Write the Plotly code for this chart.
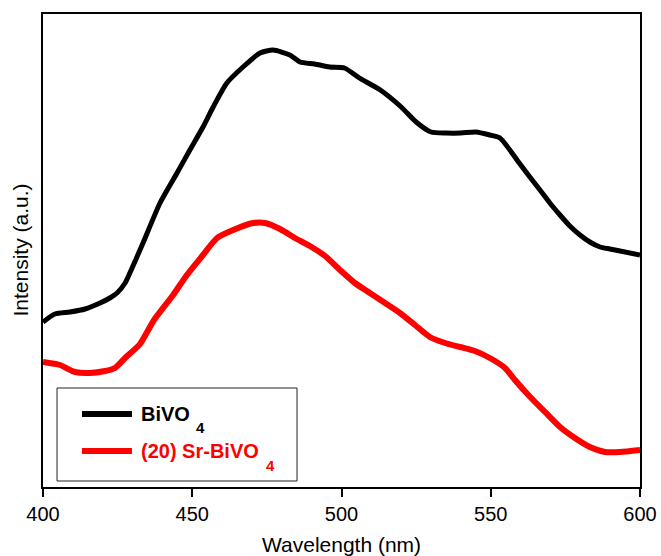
import plotly.graph_objects as go

# Photoluminescence spectra (arbitrary intensity units)
wl_bivo4 = [400, 404, 409, 414.1, 419.1, 422.4, 424.8, 427.5, 429.1, 433.5, 439.2,
            444.9, 449.2, 453.6, 457.0, 461.6, 467.0, 472.7, 477.1, 482.7, 486.1,
            491, 496, 501, 506, 513, 520, 525, 530, 535, 540, 545, 549.7, 553.1,
            556.4, 559.8, 563.1, 566.5, 569.8, 573.2, 576.5, 579.9, 583.2, 586.6,
            589.9, 593.3, 600]
int_bivo4 = [165, 173, 175, 178, 184, 189, 194, 204, 214, 244, 284,
             314, 337, 360, 380, 404, 420, 434, 437, 432, 425,
             423, 420, 419, 409, 397, 380, 365, 355, 354, 354, 355, 352, 349,
             337, 323, 310, 297, 284, 272, 261, 252, 245, 240,
             238, 236, 232]

wl_sr = [400, 405.7, 410.7, 415.7, 420.8, 424.1, 427.5, 432.5, 437.2, 443.6, 448.2,
         453.6, 458.3, 463.7, 470.4, 474.4, 479.4, 484.4, 489.4, 494.5,
         499.5, 504.5, 509.5, 514.6, 519.6, 524.6, 529.6, 534.7, 539.7, 544.7, 549.7,
         554.8, 558.1, 563.2, 568.2, 573.2, 578.2, 583.2, 588.3, 593.3, 600]
int_sr = [125, 122, 115, 114, 116, 119, 129, 143, 167, 192, 212,
          232, 249, 257, 264, 264, 258, 249, 241, 231,
          217, 204, 194, 184, 174, 162, 150, 144, 140, 136, 129,
          119, 107, 90, 75, 60, 49, 40, 35, 35, 37]

x_ticks = [400, 450, 500, 550, 600]
names = ["BiVO4", "(20) Sr-BiVO4"]
legend_main = ["BiVO", "(20) Sr-BiVO"]
legend_sub = ["4", "4"]
colors = ["#000000", "#ff0000"]
widths = [5, 6]

FONT = "Liberation Sans, Arial, Helvetica, sans-serif"

fig = go.Figure()
for wl, inten, name, col, w in zip([wl_bivo4, wl_sr], [int_bivo4, int_sr], names, colors, widths):
    fig.add_trace(go.Scatter(x=wl, y=inten, mode="lines", name=name,
                             line=dict(color=col, width=w, shape="spline", smoothing=0.6),
                             showlegend=False))

fig.update_layout(
    width=661, height=556, autosize=False,
    margin=dict(l=43, r=21, t=14, b=69, autoexpand=False),
    paper_bgcolor="white", plot_bgcolor="white",
    font=dict(family=FONT, size=20, color="black"),
)
fig.update_xaxes(range=[400, 600], tickvals=x_ticks, ticks="outside", ticklen=8,
                 tickwidth=1.5, tickcolor="black", showline=True, linecolor="black",
                 linewidth=2, mirror=True, showgrid=False, zeroline=False,
                 tickfont=dict(size=20), automargin=False)
fig.update_yaxes(range=[0, 473], showticklabels=False, ticks="", showline=True,
                 linecolor="black", linewidth=2, mirror=True, showgrid=False,
                 zeroline=False, automargin=False)

# axis titles
fig.add_annotation(text="Wavelength (nm)", xref="paper", yref="paper", x=0.5, y=-0.1226,
                   showarrow=False, xanchor="center", yanchor="middle", font=dict(size=21))
fig.add_annotation(text="Intensity (a.u.)", xref="paper", yref="paper", x=-0.0385, y=0.5,
                   textangle=-90, showarrow=False, xanchor="center", yanchor="middle",
                   font=dict(size=21))

# legend box with line samples and labels
fig.add_shape(type="rect", xref="paper", yref="paper", x0=0.0235, x1=0.4255,
              y0=0.0127, y1=0.2093, line=dict(color="#222222", width=1),
              fillcolor="white", layer="above")
row_y = [0.1543, 0.0761]
sub_y = [0.1258, 0.0465]
sub_x = [0.2530, 0.3705]
for yk, sy, sx, main, sub, col in zip(row_y, sub_y, sub_x, legend_main, legend_sub, colors):
    fig.add_shape(type="line", xref="paper", yref="paper", x0=0.0653, x1=0.149,
                  y0=yk, y1=yk, line=dict(color=col, width=6), layer="above")
    fig.add_annotation(text="<b>" + main + "</b>", xref="paper", yref="paper",
                       x=0.1605, y=yk, xanchor="left", yanchor="middle", showarrow=False,
                       font=dict(size=20, color=col))
    fig.add_annotation(text="<b>" + sub + "</b>", xref="paper", yref="paper",
                       x=sx, y=sy, xanchor="left", yanchor="middle", showarrow=False,
                       font=dict(size=15, color=col))

fig.write_html("out.html", config={"responsive": False})
